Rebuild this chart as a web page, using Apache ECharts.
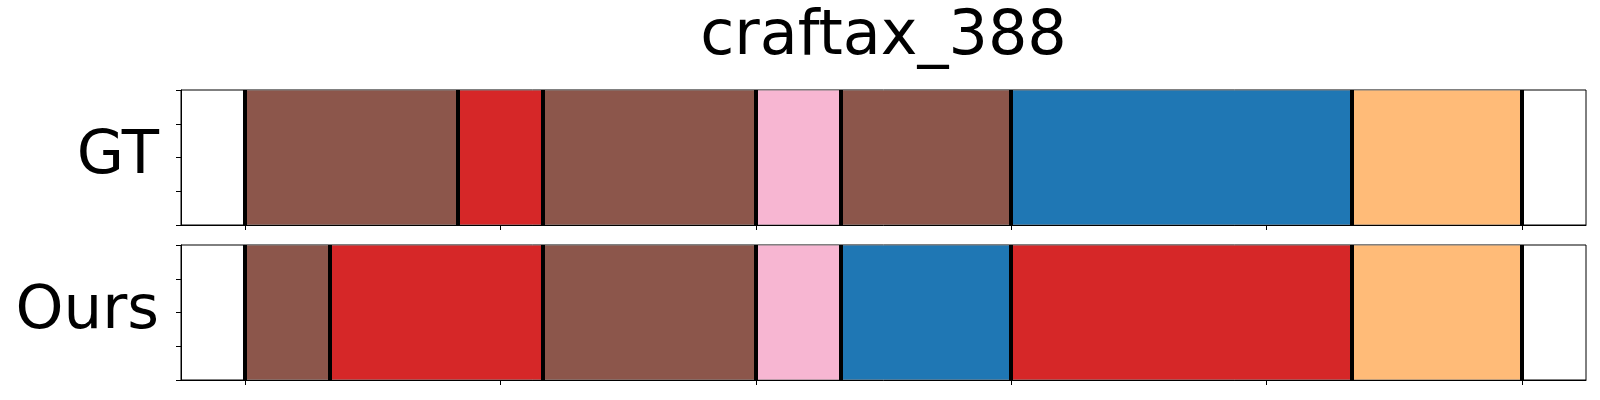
<!DOCTYPE html>
<html>
<head>
<meta charset="utf-8">
<script src="https://cdn.jsdelivr.net/npm/echarts@6/dist/echarts.min.js"></script>
<style>
html,body{margin:0;padding:0;background:#fff;}
#chart{width:1600px;height:400px;}
</style>
</head>
<body>
<div id="chart"></div>
<script>
// ---- data ----
const title = 'craftax_388';
const rowNames = ['GT', 'Ours'];
const xTicks = [0, 50, 100, 150, 200, 250];
const yTicks = [0, 0.25, 0.5, 0.75, 1];
// segment boundaries (x units) and class id per segment
const gtBounds = [0, 41.67, 58.33, 100, 116.67, 150, 216.67, 250];
const gtClasses = ['brown', 'red', 'brown', 'pink', 'brown', 'blue', 'orange'];
const oursBounds = [0, 16.67, 58.33, 100, 116.67, 150, 216.67, 250];
const oursClasses = ['brown', 'red', 'brown', 'pink', 'blue', 'red', 'orange'];

// ---- styles ----
const classColors = {
  blue: '#1f77b4', orange: '#ffbb78', red: '#d62728', brown: '#8c564b', pink: '#f7b6d2'
};
const font = 'DejaVu Sans';

function segs(bounds, classes) {
  const out = [];
  for (let i = 0; i < classes.length; i++) out.push([bounds[i], bounds[i + 1], classes[i]]);
  return out;
}
const rows = [segs(gtBounds, gtClasses), segs(oursBounds, oursClasses)];
const allBounds = [gtBounds, oursBounds];

const gridTops = [90, 245];
const gridH = 135;
const grids = gridTops.map(t => ({
  left: 181, right: 14, top: t, height: gridH,
  show: true, borderColor: '#000', borderWidth: 1, backgroundColor: 'transparent'
}));
const xAxes = gridTops.map((t, i) => ({
  type: 'value', gridIndex: i, min: -12.5, max: 262.5,
  axisLine: { show: true, onZero: false, lineStyle: { color: '#000', width: 1 } },
  axisTick: { show: true, length: 5, inside: false, customValues: xTicks, lineStyle: { color: '#000', width: 1 } },
  axisLabel: { show: false, customValues: xTicks },
  splitLine: { show: false }
}));
const yAxes = gridTops.map((t, i) => ({
  type: 'value', gridIndex: i, min: yTicks[0], max: yTicks[yTicks.length - 1], interval: 0.25,
  name: rowNames[i], nameLocation: 'middle', nameRotate: 0, nameGap: 22,
  nameTextStyle: { fontFamily: font, fontSize: 61, color: '#000', padding: [0, 0, 12, 0] },
  axisLine: { show: true, onZero: false, lineStyle: { color: '#000', width: 1 } },
  axisTick: { show: true, length: 5, inside: false, lineStyle: { color: '#000', width: 1 } },
  axisLabel: { show: false },
  splitLine: { show: false }
}));

const series = rows.map((data, i) => ({
  type: 'custom', xAxisIndex: i, yAxisIndex: i,
  data: data,
  renderItem: function (params, api) {
    const p0 = api.coord([api.value(0), 1]);
    const p1 = api.coord([api.value(1), 0]);
    const cls = data[params.dataIndex][2];
    return {
      type: 'rect',
      shape: { x: p0[0], y: p0[1] + 0.5, width: p1[0] - p0[0], height: p1[1] - p0[1] - 1 },
      style: { fill: classColors[cls], stroke: null }
    };
  },
  markLine: {
    silent: true, symbol: 'none', animation: false,
    label: { show: false },
    lineStyle: { color: '#000', width: 4, type: 'solid' },
    data: allBounds[i].map(v => ({ xAxis: v }))
  },
  animation: false
}));

const chart = echarts.init(document.getElementById('chart'), null, { renderer: 'canvas' });
chart.setOption({
  animation: false,
  backgroundColor: '#fff',
  grid: grids,
  xAxis: xAxes,
  yAxis: yAxes,
  series: series,
  graphic: [{
    type: 'text', x: 883.5, y: 7,
    style: { text: title, fontFamily: font, fontSize: 62, fill: '#000', textAlign: 'center', textVerticalAlign: 'top' }
  }]
});
</script>
</body>
</html>
